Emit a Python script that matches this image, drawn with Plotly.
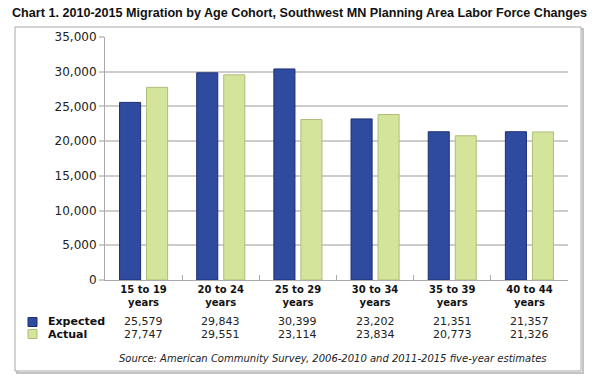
import plotly.graph_objects as go

title = "Chart 1. 2010-2015 Migration by Age Cohort, Southwest MN Planning Area Labor Force Changes"
categories = ["15 to 19<br>years", "20 to 24<br>years", "25 to 29<br>years",
              "30 to 34<br>years", "35 to 39<br>years", "40 to 44<br>years"]
series_names = ["Expected", "Actual"]
expected = [25579, 29843, 30399, 23202, 21351, 21357]
actual = [27747, 29551, 23114, 23834, 20773, 21326]
source = "Source: American Community Survey, 2006-2010 and 2011-2015 five-year estimates"

# the page body margin is removed in the written page, so window pixels = figure pixels
W, H = 595, 380
L, R, T, B = 105, 568, 37, 280
pw, ph = R - L, B - T

def px(x):
    return (x - L) / pw

def py(y):
    return (B - y) / ph

blue, blue_edge = "#2f4ba0", "#1c2f75"
green, green_edge = "#d4e49b", "#aebd7c"
cat_keys = [c.replace("<br>", " ") for c in categories]

fig = go.Figure()
fig.add_trace(go.Bar(x=cat_keys, y=expected, name=series_names[0],
                     marker=dict(color=blue, line=dict(color=blue_edge, width=1))))
fig.add_trace(go.Bar(x=cat_keys, y=actual, name=series_names[1],
                     marker=dict(color=green, line=dict(color=green_edge, width=1))))

shapes = []
shapes.append(dict(type="rect", xref="paper", yref="paper", layer="below",
                   x0=px(17), x1=px(583), y0=py(29), y1=py(373),
                   line=dict(color="#c4c4c4", width=2), fillcolor="rgba(0,0,0,0)"))
shapes.append(dict(type="rect", xref="paper", yref="paper", layer="below",
                   x0=px(15), x1=px(581), y0=py(27), y1=py(371),
                   line=dict(color="#a8a8a8", width=1), fillcolor="white"))
for i, (c, e) in enumerate([(blue, blue_edge), (green, green_edge)]):
    yc = 322 + i * 12
    shapes.append(dict(type="rect", xref="paper", yref="paper",
                       x0=px(28), x1=px(37), y0=py(yc - 4.5), y1=py(yc + 4.5),
                       line=dict(color=e, width=1), fillcolor=c))

annotations = []
annotations.append(dict(text="<b>" + title + "</b>", xref="paper", yref="paper",
                        x=px(299), y=py(13), showarrow=False, xanchor="center", yanchor="middle",
                        font=dict(family="Liberation Sans, Arial", size=12.6, color="#111")))
for i, name in enumerate(series_names):
    annotations.append(dict(text="<b>" + name + "</b>", xref="paper", yref="paper",
                            x=px(46), y=py(322 + i * 12), showarrow=False,
                            xanchor="left", yanchor="middle",
                            font=dict(family="DejaVu Sans, Verdana", size=11, color="#111")))
for row, vals in enumerate([expected, actual]):
    for k, v in zip(cat_keys, vals):
        annotations.append(dict(text=f"{v:,}", xref="x", yref="paper", x=k,
                                y=py(322 + row * 12), showarrow=False,
                                xanchor="center", yanchor="middle",
                                font=dict(family="DejaVu Sans, Verdana", size=11, color="#222")))
annotations.append(dict(text="<i>" + source + "</i>", xref="paper", yref="paper",
                        x=px(333), y=py(358), showarrow=False, xanchor="center", yanchor="middle",
                        font=dict(family="DejaVu Sans, Verdana", size=10, color="#222")))

fig.update_layout(
    width=W, height=H,
    margin=dict(l=L, r=W - R, t=T, b=H - B, pad=0),
    paper_bgcolor="white", plot_bgcolor="white",
    barmode="group", bargap=0.3, bargroupgap=0.22,
    showlegend=False,
    shapes=shapes, annotations=annotations,
    xaxis=dict(type="category", tickmode="array", tickvals=cat_keys,
               ticktext=["<b>" + c + "</b>" for c in categories],
               tickfont=dict(family="DejaVu Sans, Verdana", size=10, color="#111"),
               showline=True, linecolor="#aaaaaa", linewidth=1,
               ticks="inside", tickson="boundaries", ticklen=5, tickcolor="#aaaaaa",
               showgrid=False, fixedrange=True),
    yaxis=dict(range=[0, 35000], dtick=5000, tickformat=",",
               tickfont=dict(family="DejaVu Sans, Verdana", size=12, color="#222"),
               showline=True, linecolor="#aaaaaa", linewidth=1,
               ticks="outside", ticklen=5, tickcolor="#cccccc", tickwidth=2,
               showgrid=True, gridcolor="#cccccc", gridwidth=2,
               zeroline=False, fixedrange=True),
)

fig.write_html("out.html", config={"displayModeBar": False},
               post_script="document.body.style.margin='0';document.body.style.overflow='hidden';")
